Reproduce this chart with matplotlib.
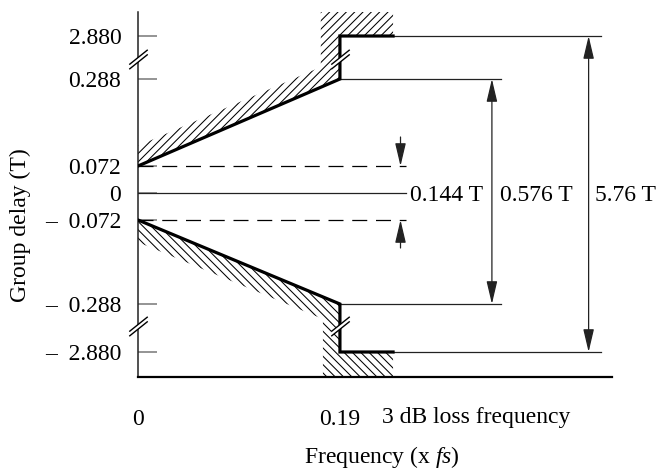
import numpy as np
import matplotlib.pyplot as plt
from matplotlib.path import Path
from matplotlib.patches import Polygon

plt.rcParams['font.family'] = ['Liberation Serif', 'DejaVu Serif']
plt.rcParams['mathtext.fontset'] = 'custom'
plt.rcParams['mathtext.rm'] = 'Liberation Serif'
plt.rcParams['mathtext.it'] = 'Liberation Serif:italic'
plt.rcParams['hatch.linewidth'] = 0.75

FS = 17

# group delay levels (T)
delay_ticks = [2.880, 0.288, 0.072, 0, -0.072, -0.288, -2.880]
delay_labels = ["2.880", "0.288", "0.072", "0", "–  0.072", "–  0.288", "–  2.880"]
d_inner = 0.072
d_edge = 0.288
d_outer = 2.880
d_break = 1.5

# frequency points (x fs)
freq_ticks = [0, 0.19]
freq_labels = ["0", "0.19"]
f_edge = 0.19
f_step_end = 0.24
f_ref_end = 0.342
f_outer_end = 0.4356
f_zero_end = 0.252
f_max = 0.446

# mask outline
mask_f = [0, f_edge, f_edge, f_step_end]
mask_upper = [d_inner, d_edge, d_outer, d_outer]
mask_lower = [-d_inner, -d_edge, -d_outer, -d_outer]

# broken delay axis: compressed outside +-0.288
VLEV = [-4, -2.88, -0.288, -0.072, 0, 0.072, 0.288, 2.88, 4]
PLEV = [-184, -159, -111, -27, 0, 27, 114, 157, 181]


def fwd(v):
    return np.interp(v, VLEV, PLEV)


def inv(p):
    return np.interp(p, PLEV, VLEV)


fig = plt.figure(figsize=(6.7, 4.73), dpi=100)
ax = fig.add_axes([138 / 670, 96 / 473, 474 / 670, 365 / 473])
ax.set_yscale('function', functions=(fwd, inv))
ax.set_xlim(0, f_max)
ax.set_ylim(-4, 4)

for s in ['top', 'right']:
    ax.spines[s].set_visible(False)
ax.spines['left'].set_linewidth(1.1)
ax.spines['left'].set_color('#222222')
ax.spines['bottom'].set_linewidth(1.6)
ax.spines['bottom'].set_color('black')

ax.set_yticks(delay_ticks)
ax.set_yticklabels(delay_labels)
ax.yaxis.set_minor_locator(plt.NullLocator())
ax.tick_params(axis='y', direction='in', length=14, width=1.1, color='#777777',
               labelsize=FS, pad=12)
ax.set_xticks(freq_ticks)
ax.set_xticklabels(freq_labels)
ax.tick_params(axis='x', length=0, labelsize=FS, pad=23)

# hatched forbidden regions
upper_hatch = [(0, d_inner), (f_edge, d_edge), (f_edge, d_outer), (f_step_end, d_outer),
               (f_step_end, 4), (0.172, 4), (0.172, 1.01), (0, 0.122)]
lower_hatch = [(0, -d_inner), (f_edge, -d_edge), (f_edge, -d_outer), (f_step_end, -d_outer),
               (f_step_end, -4), (0.174, -4), (0.174, -1.098), (0, -0.129)]
ax.add_patch(Polygon(upper_hatch, closed=True, facecolor='none', edgecolor='black',
                     linewidth=0, hatch='////', zorder=1))
ax.add_patch(Polygon(lower_hatch, closed=True, facecolor='none', edgecolor='black',
                     linewidth=0, hatch='\\\\\\\\', zorder=1))

# mask
ax.plot(mask_f, mask_upper, color='black', lw=2.3, solid_joinstyle='miter', zorder=3)
ax.plot(mask_f, mask_lower, color='black', lw=2.3, solid_joinstyle='miter', zorder=3)

# reference lines
thin = dict(color='#222222', lw=0.9, zorder=2)
ax.plot([f_step_end, f_outer_end], [d_outer, d_outer], **thin)
ax.plot([f_step_end, f_outer_end], [-d_outer, -d_outer], **thin)
ax.plot([f_edge, f_ref_end], [d_edge, d_edge], **thin)
ax.plot([f_edge, f_ref_end], [-d_edge, -d_edge], **thin)
ax.plot([0, f_zero_end], [0, 0], **thin)
ax.plot([0, f_zero_end], [d_inner, d_inner], color='black', lw=0.9, dashes=(12, 7))
ax.plot([0, f_zero_end], [-d_inner, -d_inner], color='black', lw=0.9, dashes=(12, 7))

# dimension arrows
head = 'head_length=1.4,head_width=0.33'
ap2 = dict(arrowstyle='<|-|>,' + head, color='#222222', lw=0.9, shrinkA=0, shrinkB=0)
ap1 = dict(arrowstyle='-|>,' + head, color='#222222', lw=0.9, shrinkA=0, shrinkB=0)
ax.annotate('', xy=(0.333, d_edge), xytext=(0.333, -d_edge), arrowprops=ap2)
ax.annotate('', xy=(0.424, d_outer), xytext=(0.424, -d_outer), arrowprops=ap2,
            annotation_clip=False)
ax.annotate('', xy=(0.247, d_inner), xytext=(0.247, 2 * d_inner), arrowprops=ap1)
ax.annotate('', xy=(0.247, -d_inner), xytext=(0.247, -2 * d_inner), arrowprops=ap1)

ax.text(0.256, 0, "0.144 T", fontsize=FS, va='center_baseline', ha='left')
ax.text(0.3405, 0, "0.576 T", fontsize=FS, va='center_baseline', ha='left')
ax.text(0.430, 0, "5.76 T", fontsize=FS, va='center_baseline', ha='left', clip_on=False)

# axis break marks
brk_lines = Path([(-1, -1.05), (1, 0.55), (-1, -0.55), (1, 1.05)],
                 [Path.MOVETO, Path.LINETO, Path.MOVETO, Path.LINETO])
brk_fill = Path([(-1, -1.05), (1, 0.55), (1, 1.05), (-1, -0.55), (-1, -1.05)],
                [Path.MOVETO, Path.LINETO, Path.LINETO, Path.LINETO, Path.CLOSEPOLY])
for bx in [0, f_edge]:
    for by in [d_break, -d_break]:
        ax.plot([bx], [by], marker=brk_fill, markersize=14, markerfacecolor='white',
                markeredgewidth=0, linestyle='none', zorder=6, clip_on=False)
        ax.plot([bx], [by], marker=brk_lines, markersize=14, markeredgecolor='black',
                markeredgewidth=1.0, linestyle='none', zorder=7, clip_on=False)

ax.text(0.2295, -0.126, "3 dB loss frequency", fontsize=FS, ha='left', va='baseline',
        transform=ax.get_xaxis_transform())
fig.text(382 / 670, 1 - 463 / 473, "Frequency (x $fs$)", fontsize=FS,
         ha='center', va='baseline')
fig.text(20 / 670, 1 - 225 / 473, "Group delay (T)", fontsize=FS, rotation=90,
         ha='center', va='center')

fig.savefig("out.png", dpi=100)
